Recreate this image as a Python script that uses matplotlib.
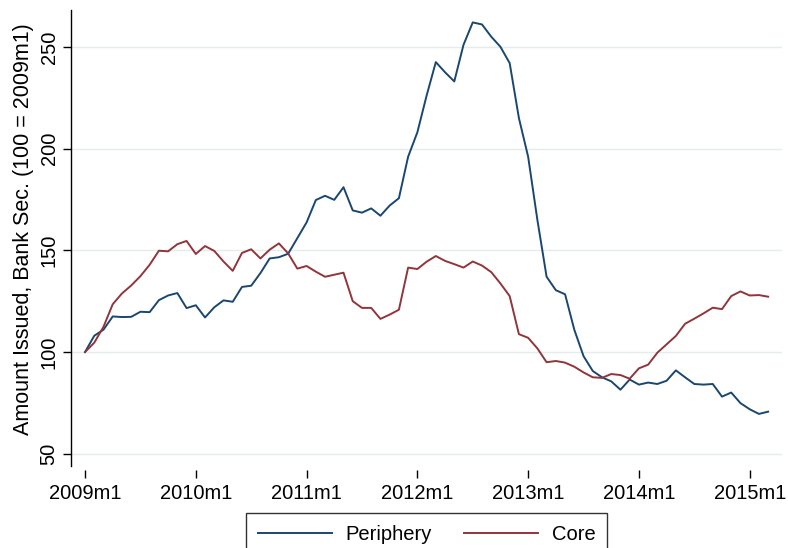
import matplotlib
matplotlib.use("Agg")
import matplotlib.pyplot as plt

plt.rcParams['font.family'] = ['Liberation Sans', 'DejaVu Sans']

months = list(range(75))
tick_pos = [0, 12, 24, 36, 48, 60, 72]
tick_labels = ["2009m1", "2010m1", "2011m1", "2012m1", "2013m1", "2014m1", "2015m1"]
y_ticks = [50, 100, 150, 200, 250]

periphery = [100, 108, 111, 117.5, 117.2, 117.3, 119.8, 119.6, 125.5, 127.8,
             129, 121.6, 123, 117, 122, 125.4, 124.7, 132, 132.6, 138.8,
             146, 146.6, 148.3, 156, 163.7, 174.7, 176.8, 174.8, 181, 169.6,
             168.5, 170.6, 167, 172, 175.6, 196, 208, 226, 242.5, 237.5,
             233, 251, 262, 261, 255, 250, 242, 215, 196, 165,
             137, 130.4, 128.4, 111, 98, 90.7, 87.6, 85.6, 81.5, 86.5,
             84, 85, 84.3, 85.9, 91, 87.6, 84.3, 84, 84.3, 78.1,
             80.1, 74.9, 71.9, 69.6, 70.7]

core = [100, 104.6, 112.4, 123.5, 128.8, 132.7, 137.3, 142.9, 149.8, 149.5,
        153, 154.6, 148.2, 152.1, 149.7, 144.5, 139.9, 148.7, 150.5, 146,
        150.3, 153.4, 148.5, 141, 142.3, 139.5, 137, 138, 139, 125,
        121.7, 121.7, 116.3, 118.4, 120.8, 141.5, 140.8, 144.4, 147.2, 144.8,
        143.2, 141.5, 144.5, 142.5, 139.3, 133.7, 127.5, 108.8, 107, 101.8,
        95, 95.6, 94.8, 92.8, 90, 87.6, 87.3, 89.2, 88.7, 86.9,
        92, 93.8, 99.7, 103.8, 107.9, 113.9, 116.4, 119, 121.8, 121.1,
        127.5, 129.8, 127.8, 128, 127.2]

fig = plt.figure(figsize=(7.88, 5.48), dpi=100)
ax = fig.add_axes([71/788, 1-466/548, (782-71)/788, (466-10)/548])

for y in y_ticks:
    ax.axhline(y, color='#E4ECED', lw=1.0, zorder=0)

ax.plot(months, periphery, color='#1A476F', lw=1.4, label='Periphery')
ax.plot(months, core, color='#90353B', lw=1.4, label='Core')

ax.set_xlim(-1.52, 75.5)
ax.set_ylim(44.0, 268.1)
ax.set_xticks(tick_pos)
ax.set_xticklabels(tick_labels)
ax.set_yticks(y_ticks)
ax.set_yticklabels([str(v) for v in y_ticks], rotation=90, va='center')

for s in ['top', 'right']:
    ax.spines[s].set_visible(False)
ax.spines['bottom'].set_position(('outward', 3))
ax.spines['bottom'].set_visible(False)
ax.spines['left'].set_linewidth(1.0)

ax.tick_params(axis='both', labelsize=14.5, length=6, width=1.0, color='black')
ax.tick_params(axis='x', pad=4)
ax.tick_params(axis='y', pad=3)
ax.set_ylabel("Amount Issued, Bank Sec. (100 = 2009m1)", fontsize=15.5)
ax.yaxis.set_label_coords(-0.052, 0.52)

leg = fig.legend(loc='upper center', bbox_to_anchor=(426.5/788, 1-513/548), ncol=2,
                 fontsize=14.5, handlelength=3.7, handletextpad=0.65, columnspacing=1.6,
                 frameon=True, fancybox=False, borderpad=0.6, borderaxespad=0)
leg.get_frame().set_edgecolor('black')
leg.get_frame().set_linewidth(1.0)

fig.savefig('out.png', dpi=100)
